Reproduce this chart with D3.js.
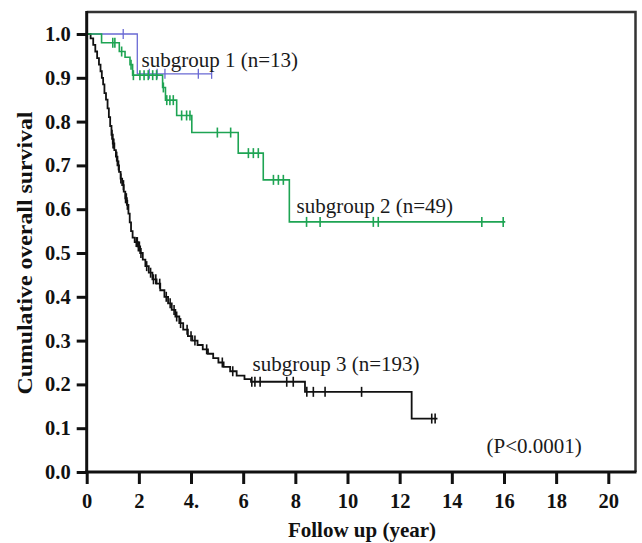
<!DOCTYPE html>
<html>
<head>
<meta charset="utf-8">
<script src="https://cdn.jsdelivr.net/npm/d3@7"></script>
<style>
  html, body { margin: 0; padding: 0; background: #fff; }
  svg { display: block; }
</style>
</head>
<body>
<svg id="chart" width="642" height="543"></svg>
<script>
// ---------- data ----------
const xTicks = [0, 2, 4, 6, 8, 10, 12, 14, 16, 18, 20];
const xTickLabels = ["0", "2", "4.", "6", "8", "10", "12", "14", "16", "18", "20"];
const yTicks = [0, 0.1, 0.2, 0.3, 0.4, 0.5, 0.6, 0.7, 0.8, 0.9, 1.0];
const yTickLabels = ["0.0", "0.1", "0.2", "0.3", "0.4", "0.5", "0.6", "0.7", "0.8", "0.9", "1.0"];

// step events: [time (years), survival after the drop]
const sub1Steps = [[1.94, 0.909]];
const sub1End = 4.8;
const sub1Censors = [1.4, 2.4, 2.7, 3.0, 4.28, 4.79];

const sub2Steps = [[0.57, 0.98], [1.25, 0.96], [1.47, 0.947], [1.66, 0.93], [1.76, 0.906],
  [2.91, 0.878], [3.02, 0.849], [3.45, 0.814], [4.03, 0.775], [5.81, 0.728],
  [6.77, 0.667], [7.77, 0.571]];
const sub2End = 16.05;
const sub2Censors = [1.0, 1.08, 1.34, 1.7, 1.79, 2.04, 2.2, 2.36, 2.53, 2.68, 2.94,
  3.07, 3.19, 3.32, 3.64, 3.83, 3.96, 5.01, 5.52, 6.2, 6.39, 6.58, 7.16, 7.35, 7.54,
  8.43, 8.95, 10.99, 11.18, 15.15, 15.97];

const sub3Steps = [[0.15, 0.99], [0.25, 0.975], [0.33, 0.96], [0.40, 0.945], [0.47, 0.93],
  [0.53, 0.915], [0.58, 0.90], [0.63, 0.885], [0.68, 0.865], [0.74, 0.85], [0.80, 0.83],
  [0.85, 0.81], [0.90, 0.79], [0.95, 0.77], [1.00, 0.75], [1.06, 0.735], [1.12, 0.72],
  [1.18, 0.70], [1.24, 0.685], [1.30, 0.67], [1.36, 0.655], [1.42, 0.64], [1.48, 0.625],
  [1.54, 0.61], [1.60, 0.59], [1.65, 0.57], [1.70, 0.55], [1.76, 0.535], [1.84, 0.525],
  [1.95, 0.515], [2.05, 0.50], [2.15, 0.485], [2.25, 0.47], [2.38, 0.455], [2.52, 0.44],
  [2.68, 0.43], [2.82, 0.415], [2.98, 0.40], [3.12, 0.385], [3.26, 0.37], [3.40, 0.355],
  [3.55, 0.34], [3.70, 0.325], [3.88, 0.31], [4.05, 0.30], [4.25, 0.29], [4.45, 0.28],
  [4.65, 0.27], [4.85, 0.26], [5.05, 0.25], [5.25, 0.24], [5.50, 0.23], [5.75, 0.22],
  [6.05, 0.212], [6.30, 0.206], [8.37, 0.183], [12.46, 0.122]];
const sub3End = 13.45;
const sub3Censors = [0.97, 1.01, 1.04, 1.15, 1.22, 1.31, 1.41, 1.49, 1.52, 1.56, 1.9,
  1.94, 1.98, 2.02, 2.08, 2.3, 2.45, 2.56, 2.65, 2.8, 3.05, 3.2, 3.35, 3.45, 3.6, 3.85,
  4.0, 4.15, 4.6, 5.2, 5.6, 6.33, 6.45, 6.65, 7.67, 7.92, 8.44, 8.69, 9.14, 10.54,
  13.23, 13.36];

const seriesLabels = ["subgroup 1 (n=13)", "subgroup 2 (n=49)", "subgroup 3 (n=193)"];
const pText = "(P<0.0001)";
const xTitle = "Follow up (year)";
const yTitle = "Cumulative overall survival";

// ---------- drawing ----------
const svg = d3.select("#chart");
const serif = "'Liberation Serif', 'Times New Roman', serif";

const x = d3.scaleLinear().domain([0, 20]).range([86.7, 608.3]);
const y = d3.scaleLinear().domain([0, 1]).range([472, 34]);

const frameTop = 12, frameRight = 635.5;

// frame (top & right)
svg.append("path")
  .attr("d", `M${x(0)},${frameTop}H${frameRight}V${y(0)}`)
  .attr("fill", "none").attr("stroke", "#333").attr("stroke-width", 2.5);

function survAt(steps, t) {
  let s = 1;
  for (const [ts, v] of steps) { if (ts <= t) s = v; else break; }
  return s;
}
function stepPoints(steps, end) {
  const pts = [[0, 1]];
  steps.forEach(d => pts.push(d));
  pts.push([end, steps[steps.length - 1][1]]);
  return pts;
}
const line = d3.line().x(d => x(d[0])).y(d => y(d[1])).curve(d3.curveStepAfter);

const series = [
  { steps: sub1Steps, end: sub1End, censors: sub1Censors, color: "#6a6ad4", w: 1.3, cw: 1.3 },
  { steps: sub3Steps, end: sub3End, censors: sub3Censors, color: "#111111", w: 1.8, cw: 1.6 },
  { steps: sub2Steps, end: sub2End, censors: sub2Censors, color: "#1ea453", w: 1.6, cw: 1.6 }
];

series.forEach(s => {
  const g = svg.append("g");
  g.append("path")
    .datum(stepPoints(s.steps, s.end))
    .attr("d", line)
    .attr("fill", "none")
    .attr("stroke", s.color)
    .attr("stroke-width", s.w);
  g.selectAll("line.c")
    .data(s.censors)
    .enter().append("line")
    .attr("x1", d => x(d)).attr("x2", d => x(d))
    .attr("y1", d => y(survAt(s.steps, d)) - 5)
    .attr("y2", d => y(survAt(s.steps, d)) + 5)
    .attr("stroke", s.color)
    .attr("stroke-width", s.cw);
});

// axes
const xAxis = d3.axisBottom(x).tickValues(xTicks).tickSize(12).tickPadding(6)
  .tickFormat((d, i) => xTickLabels[i]);
const yAxis = d3.axisLeft(y).tickValues(yTicks).tickSize(10).tickPadding(6)
  .tickFormat((d, i) => yTickLabels[i]);

const gx = svg.append("g").attr("transform", `translate(0,${y(0)})`).call(xAxis);
const gy = svg.append("g").attr("transform", `translate(${x(0)},0)`).call(yAxis);

[gx, gy].forEach(g => {
  g.select(".domain").remove();
  g.selectAll(".tick line").attr("stroke", "#111").attr("stroke-width", 3);
  g.selectAll(".tick text")
    .attr("fill", "#111")
    .style("font-family", serif)
    .style("font-weight", "bold")
    .style("font-size", "20.5px");
});
gx.selectAll(".tick text").attr("dy", "0.88em");

// main axis lines
svg.append("line").attr("x1", x(0)).attr("x2", x(0)).attr("y1", frameTop - 1).attr("y2", y(0) + 1.5)
  .attr("stroke", "#111").attr("stroke-width", 3);
svg.append("line").attr("x1", x(0) - 1.5).attr("x2", frameRight + 1).attr("y1", y(0)).attr("y2", y(0))
  .attr("stroke", "#111").attr("stroke-width", 3);

// titles
svg.append("text")
  .attr("x", 362).attr("y", 537)
  .attr("text-anchor", "middle")
  .style("font-family", serif).style("font-weight", "bold").style("font-size", "21px")
  .attr("fill", "#111")
  .text(xTitle);

svg.append("text")
  .attr("transform", "translate(31.5,253) rotate(-90)")
  .attr("text-anchor", "middle")
  .attr("textLength", 283)
  .attr("lengthAdjust", "spacingAndGlyphs")
  .style("font-family", serif).style("font-weight", "bold").style("font-size", "21.5px")
  .attr("fill", "#111")
  .text(yTitle);

// annotations
const ann = [
  { t: seriesLabels[0], x: 141.5, y: 66.5 },
  { t: seriesLabels[1], x: 296.5, y: 212.5 },
  { t: seriesLabels[2], x: 252.5, y: 370.5 },
  { t: pText, x: 486.5, y: 453 }
];
svg.selectAll("text.ann").data(ann).enter().append("text")
  .attr("class", "ann")
  .attr("x", d => d.x).attr("y", d => d.y)
  .style("font-family", serif).style("font-size", "21px")
  .attr("fill", "#1a1a1a")
  .text(d => d.t);
</script>
</body>
</html>
